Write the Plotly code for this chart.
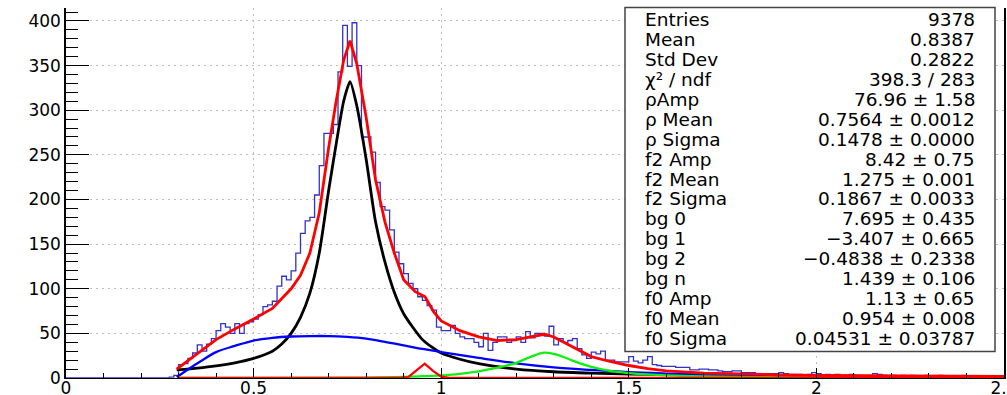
import plotly.graph_objects as go

# ---------------- data ----------------
bin_width = 0.0125
hist_counts = (
    [0] * 22 +
    [1, 3, 15, 16, 22, 28, 37, 30, 38, 44,
     53, 61, 57, 50, 61, 50, 61, 63, 66, 71,
     80, 82, 86, 103, 114, 110, 120, 140, 162, 176,
     180, 205, 238, 274, 274, 284, 343, 395, 349, 398,
     350, 270, 270, 253, 219, 192, 188, 166, 141, 128,
     117, 106, 100, 91, 87, 81, 76, 57, 53, 53,
     59, 50, 46, 44, 44, 40, 35, 50, 31, 40,
     46, 46, 40, 42, 46, 40, 52, 45, 50, 50,
     47, 58, 37, 44, 40, 42, 44, 33, 26, 22,
     29, 27, 30, 20, 20, 18, 18, 18, 24, 19,
     17, 20, 24, 15, 14, 13, 13, 13, 12, 12,
     12, 9, 9, 10, 10, 9, 9, 8, 7, 7,
     8, 8, 6, 6, 6, 5, 5, 5, 5, 5,
     6, 5, 4, 4, 4, 3, 4, 6, 5, 3,
     4, 3, 4, 3, 3, 4, 3, 3, 2, 3,
     5, 4, 3, 2, 3, 2, 3, 2, 3, 2,
     2, 3, 2, 2, 3, 2, 2, 1, 2, 3,
     2, 2, 1, 2, 2, 1, 2, 1]
)

# total fit (red)
total_x = [0.295, 0.35, 0.40, 0.45, 0.50, 0.55, 0.60, 0.625, 0.65, 0.675, 0.70, 0.72, 0.74,
           0.757, 0.775, 0.80, 0.825, 0.85, 0.875, 0.90, 0.93, 0.957, 0.98, 1.00, 1.05,
           1.10, 1.15, 1.20, 1.24, 1.275, 1.30, 1.35, 1.40, 1.45, 1.50, 1.55, 1.60, 1.70,
           1.80, 1.90, 2.0, 2.2, 2.5]
total_y = [10, 27, 43, 55, 66, 78, 100, 115, 140, 185, 258, 310, 356,
           378, 352, 292, 222, 175, 140, 110, 97, 91, 74, 64, 53,
           46, 42, 43, 46, 49, 46, 35, 24, 18.5, 14, 10.5, 8, 5.5,
           4.3, 3.6, 3, 2.4, 1.8]

# rho component (black)
rho_x = [0.295, 0.35, 0.40, 0.45, 0.50, 0.55, 0.575, 0.60, 0.625, 0.65, 0.675, 0.70, 0.72, 0.74,
         0.757, 0.775, 0.80, 0.825, 0.85, 0.875, 0.90, 0.95, 1.00, 1.05, 1.10, 1.20, 1.30,
         1.40, 1.50, 1.75, 2.0, 2.25, 2.5]
rho_y = [9, 11, 13.5, 17, 22, 30, 38, 50, 68, 95, 140, 210, 262, 310,
         332, 305, 245, 175, 130, 96, 72, 43, 28, 21, 16, 10, 7,
         5.5, 4.5, 3, 2, 1.5, 1]

# background component (blue)
bg_x = [0.295, 0.33, 0.36, 0.40, 0.45, 0.50, 0.55, 0.60, 0.65, 0.70, 0.75, 0.80, 0.85, 0.90,
        0.95, 1.00, 1.10, 1.20, 1.30, 1.40, 1.50, 1.60, 1.70, 1.80, 1.90, 2.0, 2.2, 2.5]
bg_y = [1, 11, 19, 29, 36, 42, 45, 46.5, 47, 47, 46, 44, 40.5, 36.5,
        32.5, 29, 22.5, 16.5, 12, 9, 6.5, 5, 3.9, 3, 2.4, 2, 1.3, 0.7]

# f2 component (green)
f2_x = [0.30, 0.80, 0.90, 0.95, 1.00, 1.05, 1.10, 1.15, 1.20, 1.24, 1.275, 1.31, 1.35,
        1.40, 1.45, 1.50, 1.55, 1.60, 1.70, 1.80, 2.0, 2.5]
f2_y = [0, 0.5, 1.2, 2, 3, 4.7, 7.5, 11.5, 17, 24, 28.5, 26, 19.5,
        12.5, 8, 5.5, 4, 3, 1.8, 1.2, 0.6, 0.2]

# f0 component (red)
f0_x = [0.30, 0.89, 0.912, 0.934, 0.956, 0.978, 1.0, 1.022, 2.5]
f0_y = [0, 0, 1, 9, 16, 8, 1.5, 0, 0]

stat_labels = ["Entries", "Mean", "Std Dev", "χ² / ndf", "ρAmp", "ρ Mean", "ρ Sigma",
               "f2 Amp", "f2 Mean", "f2 Sigma", "bg 0", "bg 1", "bg 2", "bg n",
               "f0 Amp", "f0 Mean", "f0 Sigma"]
stat_values = ["9378", "0.8387", "0.2822", "398.3 / 283", "76.96 ± 1.58",
               "0.7564 ± 0.0012", "0.1478 ± 0.0000", "8.42 ± 0.75", "1.275 ± 0.001",
               "0.1867 ± 0.0033", "7.695 ± 0.435", "−3.407 ± 0.665", "−0.4838 ± 0.2338",
               "1.439 ± 0.106", "1.13 ± 0.65", "0.954 ± 0.008", "0.04531 ± 0.03787"]

# ---------------- figure ----------------
edges = [i * bin_width for i in range(len(hist_counts) + 1)]
hx = edges
hy = hist_counts + [hist_counts[-1]]

FONT = "DejaVu Sans"
fig = go.Figure()
fig.add_trace(go.Scatter(x=hx, y=hy, mode="lines", line=dict(shape="hv", color="rgb(50,50,200)", width=1.3),
                         hoverinfo="skip"))
fig.add_trace(go.Scatter(x=rho_x, y=rho_y, mode="lines",
                         line=dict(color="black", width=2.8, shape="spline", smoothing=0.6)))
fig.add_trace(go.Scatter(x=bg_x, y=bg_y, mode="lines", line=dict(color="#0000ff", width=2.3, shape="spline")))
fig.add_trace(go.Scatter(x=f2_x, y=f2_y, mode="lines", line=dict(color="#11ee11", width=2.3, shape="spline")))
fig.add_trace(go.Scatter(x=f0_x, y=f0_y, mode="lines", line=dict(color="#ff0000", width=2.3)))
fig.add_trace(go.Scatter(x=total_x, y=total_y, mode="lines", line=dict(color="#ff0000", width=2.8)))

L, R, T, B = 66, 3, 8, 17
W, H = 1007, 395
pw, ph = W - L - R, H - T - B


def px(xp):
    return (xp - L) / pw


def py(yp):
    return (H - B - yp) / ph


fig.add_shape(type="rect", xref="paper", yref="paper", x0=px(625), x1=px(995), y0=py(351.5), y1=py(7.5),
              line=dict(color="#444444", width=1.5), fillcolor="white", layer="above")

for i, (lab, val) in enumerate(zip(stat_labels, stat_values)):
    yc = py(26 + 19.94 * i - 6.5)
    fig.add_annotation(xref="paper", yref="paper", x=px(643), y=yc, text=lab, showarrow=False,
                       xanchor="left", yanchor="middle", font=dict(family=FONT, size=18.5, color="black"))
    fig.add_annotation(xref="paper", yref="paper", x=px(977), y=yc, text=val, showarrow=False,
                       xanchor="right", yanchor="middle", font=dict(family=FONT, size=18.5, color="black"))

fig.update_layout(
    width=W, height=H, margin=dict(l=L, r=R, t=T, b=B, pad=0, autoexpand=False),
    paper_bgcolor="white", plot_bgcolor="white", showlegend=False,
    font=dict(family=FONT, size=17, color="black"),
)
fig.update_xaxes(range=[0, 2.5], dtick=0.5, tick0=0, ticks="inside", ticklen=10, tickcolor="black",
                 showline=True, linecolor="black", linewidth=1.2, zeroline=False, automargin=False,
                 ticklabelstandoff=-6, ticklabeloverflow="allow",
                 showgrid=True, gridcolor="#bdbdbd", griddash="2px,4px", gridwidth=1,
                 minor=dict(dtick=0.1, ticks="inside", ticklen=5, tickcolor="black", showgrid=False),
                 tickfont=dict(family=FONT, size=17))
fig.update_yaxes(range=[0, 414.5], dtick=50, tick0=0, ticks="inside", ticklen=23, tickcolor="black",
                 showline=True, linecolor="black", linewidth=1.5, mirror=True, zeroline=False,
                 automargin=False, ticklabeloverflow="allow",
                 showgrid=True, gridcolor="#bdbdbd", griddash="2px,4px", gridwidth=1,
                 minor=dict(dtick=10, ticks="inside", ticklen=12, tickcolor="black", showgrid=False),
                 tickfont=dict(family=FONT, size=17))

fig.write_html("out.html", config={"displayModeBar": False},
               post_script="document.body.style.margin='0';document.body.style.overflow='hidden';")
